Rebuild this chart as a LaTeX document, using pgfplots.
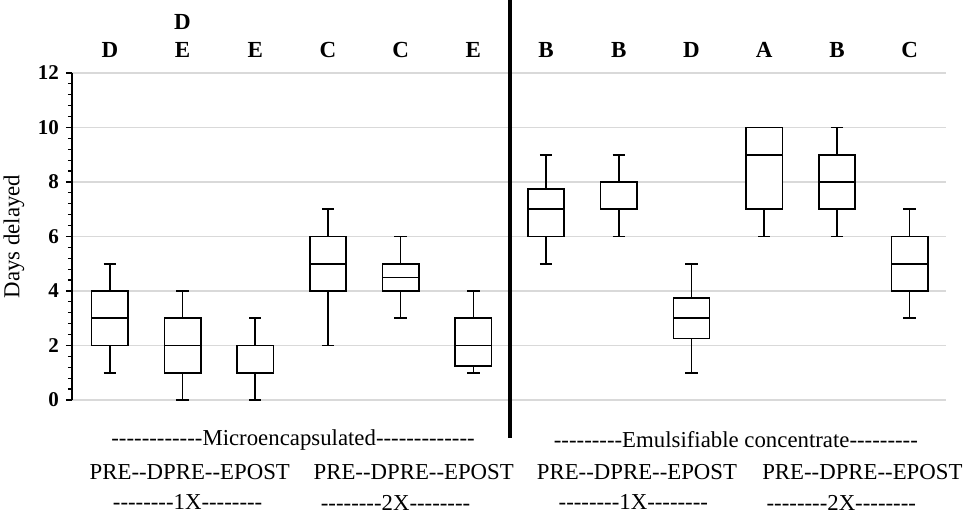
\documentclass[border=0pt]{standalone}
\usepackage{fontspec}
\setmainfont{Liberation Serif}[Ligatures=TeXOff]
\usepackage{pgfplots}
\usepgfplotslibrary{statistics}
\pgfplotsset{compat=1.18}

\newcommand{\txt}{\fontsize{11.4}{13}\selectfont}
\newcommand{\lbl}{\fontsize{11.5}{13}\selectfont\bfseries}

\begin{document}
\begin{tikzpicture}
\begin{axis}[
  scale only axis, width=437pt, height=163.5pt,
  xmin=0.48, xmax=12.5, ymin=0, ymax=12,
  axis x line=none, axis y line*=left,
  ytick={0,2,4,6,8,10,12}, minor y tick num=4,
  tick align=outside, major tick length=3pt, minor tick length=2pt,
  ymajorgrids, grid style={draw=black!15, line width=0.8pt},
  y axis line style={line width=0.8pt},
  tick style={line width=0.6pt, black},
  yticklabel style={font=\fontsize{10.5}{12}\selectfont\bfseries},
  /pgf/number format/assume math mode=true,
  clip=false,
  boxplot/draw direction=y,
  boxplot/box extend=0.5,
  boxplot/whisker extend=0.17,
  every axis plot/.append style={black, line width=0.8pt, fill=white},
]
\addplot[boxplot prepared={draw position=1, lower whisker=1, lower quartile=2, median=3, upper quartile=4, upper whisker=5}] coordinates {};
\addplot[boxplot prepared={draw position=2, lower whisker=0, lower quartile=1, median=2, upper quartile=3, upper whisker=4}] coordinates {};
\addplot[boxplot prepared={draw position=3, lower whisker=0, lower quartile=1, median=1, upper quartile=2, upper whisker=3}] coordinates {};
\addplot[boxplot prepared={draw position=4, lower whisker=2, lower quartile=4, median=5, upper quartile=6, upper whisker=7}] coordinates {};
\addplot[boxplot prepared={draw position=5, lower whisker=3, lower quartile=4, median=4.5, upper quartile=5, upper whisker=6}] coordinates {};
\addplot[boxplot prepared={draw position=6, lower whisker=1, lower quartile=1.25, median=2, upper quartile=3, upper whisker=4}] coordinates {};
\addplot[boxplot prepared={draw position=7, lower whisker=5, lower quartile=6, median=7, upper quartile=7.75, upper whisker=9}] coordinates {};
\addplot[boxplot prepared={draw position=8, lower whisker=6, lower quartile=7, median=7, upper quartile=8, upper whisker=9}] coordinates {};
\addplot[boxplot prepared={draw position=9, lower whisker=1, lower quartile=2.25, median=3, upper quartile=3.75, upper whisker=5}] coordinates {};
\addplot[boxplot prepared={draw position=10, lower whisker=6, lower quartile=7, median=9, upper quartile=10, upper whisker=10}] coordinates {};
\addplot[boxplot prepared={draw position=11, lower whisker=6, lower quartile=7, median=8, upper quartile=9, upper whisker=10}] coordinates {};
\addplot[boxplot prepared={draw position=12, lower whisker=3, lower quartile=4, median=5, upper quartile=6, upper whisker=7}] coordinates {};

% divider
\draw[line width=2pt] (axis cs:6.5,14.7) -- (axis cs:6.5,-1.39);

% significance letters
\node[font=\lbl] at (axis cs:1,12.84) {D};
\node[font=\lbl] at (axis cs:2,12.84) {E};
\node[font=\lbl] at (axis cs:2,13.87) {D};
\node[font=\lbl] at (axis cs:3,12.84) {E};
\node[font=\lbl] at (axis cs:4,12.84) {C};
\node[font=\lbl] at (axis cs:5,12.84) {C};
\node[font=\lbl] at (axis cs:6,12.84) {E};
\node[font=\lbl] at (axis cs:7,12.84) {B};
\node[font=\lbl] at (axis cs:8,12.84) {B};
\node[font=\lbl] at (axis cs:9,12.84) {D};
\node[font=\lbl] at (axis cs:10,12.84) {A};
\node[font=\lbl] at (axis cs:11,12.84) {B};
\node[font=\lbl] at (axis cs:12,12.84) {C};

% y label
\node[font=\txt, rotate=90] at (axis cs:-0.32,6) {Days delayed};

% group labels
\node[font=\txt] at (axis cs:3.52,-1.47) {------------Microencapsulated-------------};
\node[font=\txt] at (axis cs:9.61,-1.47) {---------Emulsifiable concentrate---------};
\node[font=\txt] at (axis cs:2.10,-2.64) {PRE--DPRE--EPOST};
\node[font=\txt] at (axis cs:5.18,-2.64) {PRE--DPRE--EPOST};
\node[font=\txt] at (axis cs:8.25,-2.64) {PRE--DPRE--EPOST};
\node[font=\txt] at (axis cs:11.35,-2.64) {PRE--DPRE--EPOST};
\node[font=\txt] at (axis cs:2.07,-3.76) {--------1X--------};
\node[font=\txt] at (axis cs:4.93,-3.76) {--------2X--------};
\node[font=\txt] at (axis cs:8.20,-3.76) {--------1X--------};
\node[font=\txt] at (axis cs:11.06,-3.76) {--------2X--------};
\end{axis}
\pgfresetboundingbox
\path[use as bounding box] (-36pt,-56.5pt) rectangle (447.5pt,200pt);
\end{tikzpicture}
\end{document}
